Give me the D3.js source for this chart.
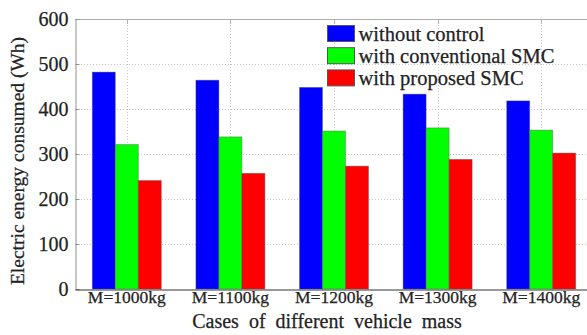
<!DOCTYPE html>
<html>
<head>
<meta charset="utf-8">
<script src="https://cdn.jsdelivr.net/npm/d3@7"></script>
<style>
  body { margin: 0; background: #fff; }
  svg { display: block; font-family: "Liberation Serif", "Times New Roman", serif; }
  text { stroke: #222; stroke-width: 0.25px; }
</style>
</head>
<body>
<div id="chart"></div>
<script>
const categories = ["M=1000kg", "M=1100kg", "M=1200kg", "M=1300kg", "M=1400kg"];
const seriesNames = ["without control", "with conventional SMC", "with proposed SMC"];
const withoutControl = [482, 464, 448, 433, 418];
const conventionalSMC = [321, 338, 351, 358, 353];
const proposedSMC = [241, 257, 273, 288, 302];
const yTicks = [0, 100, 200, 300, 400, 500, 600];
const colors = ["#0000ff", "#00ff00", "#ff0000"];

const series = [withoutControl, conventionalSMC, proposedSMC];

const width = 587, height = 335;
const margin = {top: 19, right: -6, bottom: 46, left: 75};

const svg = d3.select("#chart")
  .append("svg")
    .attr("width", width)
    .attr("height", height);

const x = d3.scaleBand()
  .domain(categories)
  .range([margin.left, width - margin.right])
  .padding(0);

const xInner = d3.scaleBand()
  .domain(d3.range(series.length))
  .range([-34.5, 34.5]);

const y = d3.scaleLinear()
  .domain([0, 600])
  .range([height - margin.bottom, margin.top]);

// grid
const grid = svg.append("g")
  .attr("stroke", "#c8c8c8")
  .attr("stroke-width", 1)
  .attr("stroke-dasharray", "1 2");

grid.selectAll("line.h")
  .data(yTicks.slice(1, -1))
  .join("line")
    .attr("class", "h")
    .attr("x1", margin.left)
    .attr("x2", width)
    .attr("y1", d => Math.round(y(d)) + 0.5)
    .attr("y2", d => Math.round(y(d)) + 0.5);

grid.selectAll("line.v")
  .data(categories)
  .join("line")
    .attr("class", "v")
    .attr("x1", d => Math.round(x(d) + x.bandwidth() / 2) + 0.5)
    .attr("x2", d => Math.round(x(d) + x.bandwidth() / 2) + 0.5)
    .attr("y1", margin.top)
    .attr("y2", height - margin.bottom);

// bars
svg.append("g")
  .selectAll("g")
  .data(categories)
  .join("g")
    .attr("transform", d => `translate(${x(d) + x.bandwidth() / 2},0)`)
  .selectAll("rect")
  .data((d, i) => series.map((s, k) => ({k, v: s[i]})))
  .join("rect")
    .attr("x", d => xInner(d.k))
    .attr("y", d => y(d.v))
    .attr("width", xInner.bandwidth())
    .attr("height", d => y(0) - y(d.v))
    .attr("fill", d => colors[d.k])
    .attr("stroke", "#555")
    .attr("stroke-opacity", 0.5)
    .attr("stroke-width", 0.8);

// top border with ticks
svg.append("line")
  .attr("x1", margin.left).attr("x2", width)
  .attr("y1", margin.top + 0.5).attr("y2", margin.top + 0.5)
  .attr("stroke", "#b0b0b0");

svg.append("g")
  .selectAll("line")
  .data(categories)
  .join("line")
    .attr("x1", d => Math.round(x(d) + x.bandwidth() / 2) + 0.5)
    .attr("x2", d => Math.round(x(d) + x.bandwidth() / 2) + 0.5)
    .attr("y1", margin.top)
    .attr("y2", margin.top + 5)
    .attr("stroke", "#b0b0b0");

// y axis
const yAxis = d3.axisLeft(y)
  .tickValues(yTicks)
  .tickSizeInner(-4)
  .tickSizeOuter(0)
  .tickPadding(7);

const gy = svg.append("g")
  .attr("transform", `translate(${margin.left + 0.5},0)`)
  .call(yAxis);
gy.select(".domain").attr("stroke", "#909090");
gy.selectAll(".tick line").attr("stroke", "#909090");
gy.selectAll(".tick text")
  .attr("fill", "#222")
  .style("font-family", "Liberation Serif")
  .style("font-size", "20px");

// x axis
const gx = svg.append("g")
  .attr("transform", `translate(0,${height - margin.bottom + 0.5})`)
  .call(d3.axisBottom(x).tickSize(0).tickPadding(1.5));
gx.select(".domain").attr("stroke", "#333");
gx.selectAll(".tick text")
  .attr("fill", "#222")
  .style("font-family", "Liberation Serif")
  .style("font-size", "17.5px");

// axis titles
svg.append("text")
  .text("Cases  of  different  vehicle  mass")
  .attr("x", 327)
  .attr("y", 328)
  .attr("text-anchor", "middle")
  .attr("fill", "#222")
  .style("font-size", "20px")
  .style("white-space", "pre");

svg.append("text")
  .text("Electric energy consumed (Wh)")
  .attr("transform", `translate(24, 161) rotate(-90)`)
  .attr("text-anchor", "middle")
  .attr("fill", "#222")
  .style("font-size", "19.5px");

// legend
const legend = svg.append("g")
  .attr("transform", "translate(327.5, 25.5)");

const item = legend.selectAll("g")
  .data(seriesNames)
  .join("g")
    .attr("transform", (d, i) => `translate(0, ${i * 22.2})`);

item.append("rect")
  .attr("width", 27)
  .attr("height", 16)
  .attr("fill", (d, i) => colors[i])
  .attr("stroke", "#555");

item.append("text")
  .text(d => d)
  .attr("x", 31)
  .attr("y", 15.5)
  .attr("fill", "#222")
  .style("font-size", "20.5px");
</script>
</body>
</html>
